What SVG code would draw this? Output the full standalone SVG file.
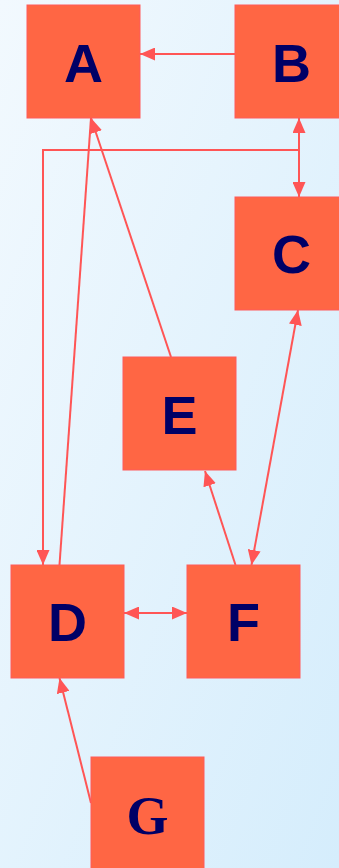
<svg xmlns="http://www.w3.org/2000/svg" width="339" height="868" viewBox="0 0 339 868">
<defs>
<linearGradient id="bg" x1="0" y1="0" x2="1" y2="1">
<stop offset="0" stop-color="#F2F9FE"/>
<stop offset="1" stop-color="#D5EDFC"/>
</linearGradient>
<marker id="ah" markerUnits="userSpaceOnUse" markerWidth="15" markerHeight="13" refX="15" refY="6.5" orient="auto-start-reverse" viewBox="0 0 15 13">
<path d="M0,0 L15,6.5 L0,13 z" fill="#FF5555"/>
</marker>
<style>
.box{fill:#FF6644;stroke:#FF5A5A;stroke-width:1}
.lbl{font-family:"Liberation Sans",Arial,sans-serif;font-weight:bold;font-size:54px;fill:#000066;text-anchor:middle}
.lblg{font-family:"Liberation Serif","Times New Roman",serif;font-weight:bold;font-size:54px;fill:#000066;text-anchor:middle}
.e{fill:none;stroke:#FF5555;stroke-width:2}
.end{marker-end:url(#ah)}
.both{marker-start:url(#ah);marker-end:url(#ah)}
</style>
</defs>
<rect x="0" y="0" width="339" height="868" fill="url(#bg)"/>
<g id="connectors">
<path class="e end" d="M235,54 L140,54"/>
<path class="e both" d="M299,118 L299,197"/>
<path class="e end" d="M299,150 L43,150 L43,565"/>
<path class="e" d="M59.5,565 L91,118"/>
<path class="e end" d="M171,357 L91,118"/>
<path class="e end" d="M235.5,565 L205,471"/>
<path class="e both" d="M298,310 L251.5,565"/>
<path class="e both" d="M124,613 L187,613"/>
<path class="e end" d="M91,803 L59.5,678"/>
</g>
<g id="A"><rect class="box" x="27" y="5" width="113" height="113"/><text class="lbl" x="83.5" y="82">A</text></g>
<g id="B"><rect class="box" x="235" y="5" width="113" height="113"/><text class="lbl" x="291.5" y="82">B</text></g>
<g id="C"><rect class="box" x="235" y="197" width="113" height="113"/><text class="lbl" x="291.5" y="273">C</text></g>
<g id="E"><rect class="box" x="123" y="357" width="113" height="113"/><text class="lbl" x="179.5" y="434">E</text></g>
<g id="D"><rect class="box" x="11" y="565" width="113" height="113"/><text class="lbl" x="67.5" y="641">D</text></g>
<g id="F"><rect class="box" x="187" y="565" width="113" height="113"/><text class="lbl" x="243.5" y="641">F</text></g>
<g id="G"><rect class="box" x="91" y="757" width="113" height="113"/><text class="lblg" x="147.5" y="834">G</text></g>
</svg>
